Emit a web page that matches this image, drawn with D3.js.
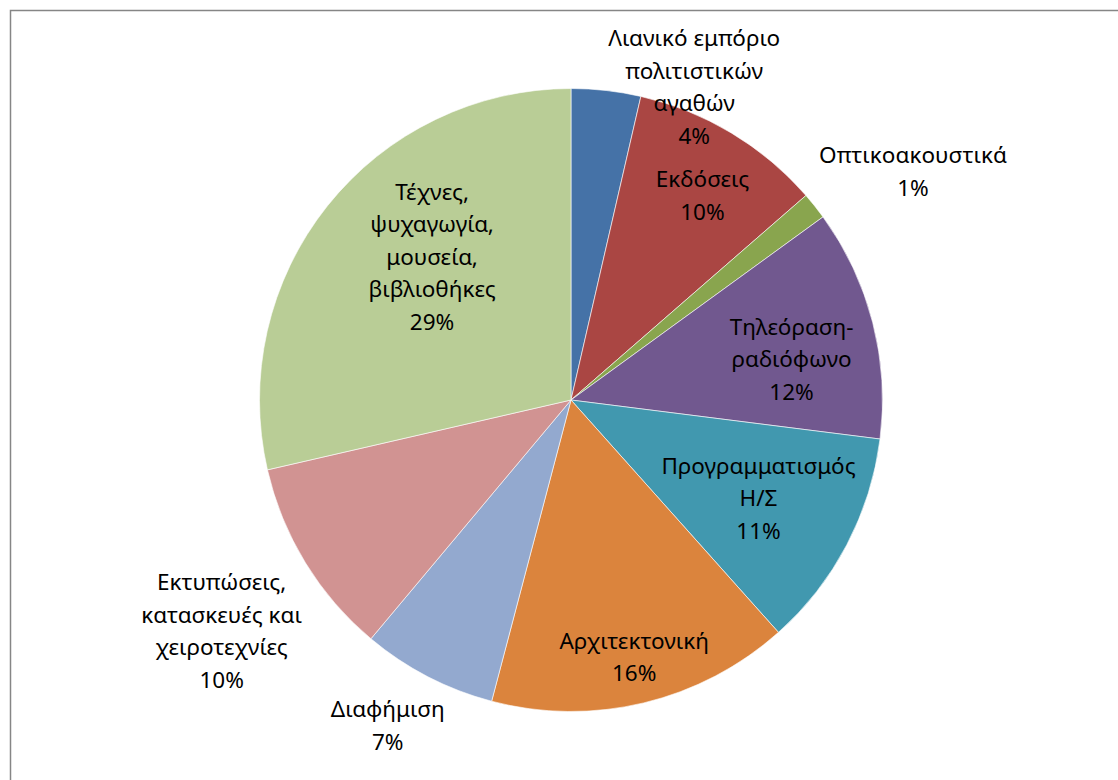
<!DOCTYPE html>
<html>
<head>
<meta charset="utf-8">
<script src="https://cdn.jsdelivr.net/npm/d3@7"></script>
<style>
  html, body { margin: 0; padding: 0; background: #fff; }
  svg { display: block; }
</style>
</head>
<body>
<svg id="chart" width="1118" height="780"></svg>
<script>
// ---- data ----
const categories = [
  "Λιανικό εμπόριο\nπολιτιστικών\nαγαθών",
  "Εκδόσεις",
  "Οπτικοακουστικά",
  "Τηλεόραση-\nραδιόφωνο",
  "Προγραμματισμός\nΗ/Σ",
  "Αρχιτεκτονική",
  "Διαφήμιση",
  "Εκτυπώσεις,\nκατασκευές και\nχειροτεχνίες",
  "Τέχνες,\nψυχαγωγία,\nμουσεία,\nβιβλιοθήκες"
];
const values = [3.6, 10.0, 1.4, 12.0, 11.4, 15.7, 7.0, 10.3, 28.6];
const colors = ["#4572A7", "#AA4643", "#89A54E", "#71588F", "#4198AF",
                "#DB843D", "#93A9CF", "#D19392", "#B9CD96"];

// ---- layout (label placement: radius factor, angle shift in degrees) ----
const labelRadius = [1.08, 0.78, 1.32, 0.72, 0.68, 0.85, 1.20, 1.345, 0.64];
const labelShift  = [15, 1.8, 4.8, 4, 0, -0.3, 2, -2, 7.3];

const cx = 571, cy = 400, R = 311.5;
const lineH = 32.5;

const svg = d3.select("#chart");

// outer frame
svg.append("rect")
  .attr("x", 10.5).attr("y", 10.5)
  .attr("width", 1130).attr("height", 790)
  .attr("fill", "none").attr("stroke", "#868686").attr("stroke-width", 1.5);

const total = d3.sum(values);
const data = categories.map((c, i) => ({ name: c, value: values[i], color: colors[i], i }));

const pie = d3.pie().sort(null).value(d => d.value);
const arcs = pie(data);
const arc = d3.arc().innerRadius(0).outerRadius(R);

const g = svg.append("g").attr("transform", `translate(${cx},${cy})`);

g.selectAll("path.slice")
  .data(arcs)
  .enter().append("path")
  .attr("class", "slice")
  .attr("d", arc)
  .attr("fill", d => d.data.color)
  .attr("stroke", "#ffffff")
  .attr("stroke-width", 0.6)
  .attr("stroke-linejoin", "round");

const fmt = v => Math.round(v / total * 100) + "%";

arcs.forEach(a => {
  const i = a.data.i;
  const mid = (a.startAngle + a.endAngle) / 2 + labelShift[i] * Math.PI / 180;
  const r = R * labelRadius[i];
  const x = Math.sin(mid) * r;
  const y = -Math.cos(mid) * r;
  const lines = a.data.name.split("\n").concat([fmt(a.data.value)]);
  const n = lines.length;
  const t = g.append("text")
    .attr("text-anchor", "middle")
    .attr("font-family", "'Noto Sans', 'Open Sans', sans-serif")
    .attr("font-size", 22.5)
    .attr("fill", "#000");
  lines.forEach((ln, k) => {
    t.append("tspan")
      .attr("x", x)
      .attr("y", y + (k - (n - 1) / 2) * lineH)
      .attr("dy", "0.35em")
      .text(ln);
  });
});
</script>
</body>
</html>
